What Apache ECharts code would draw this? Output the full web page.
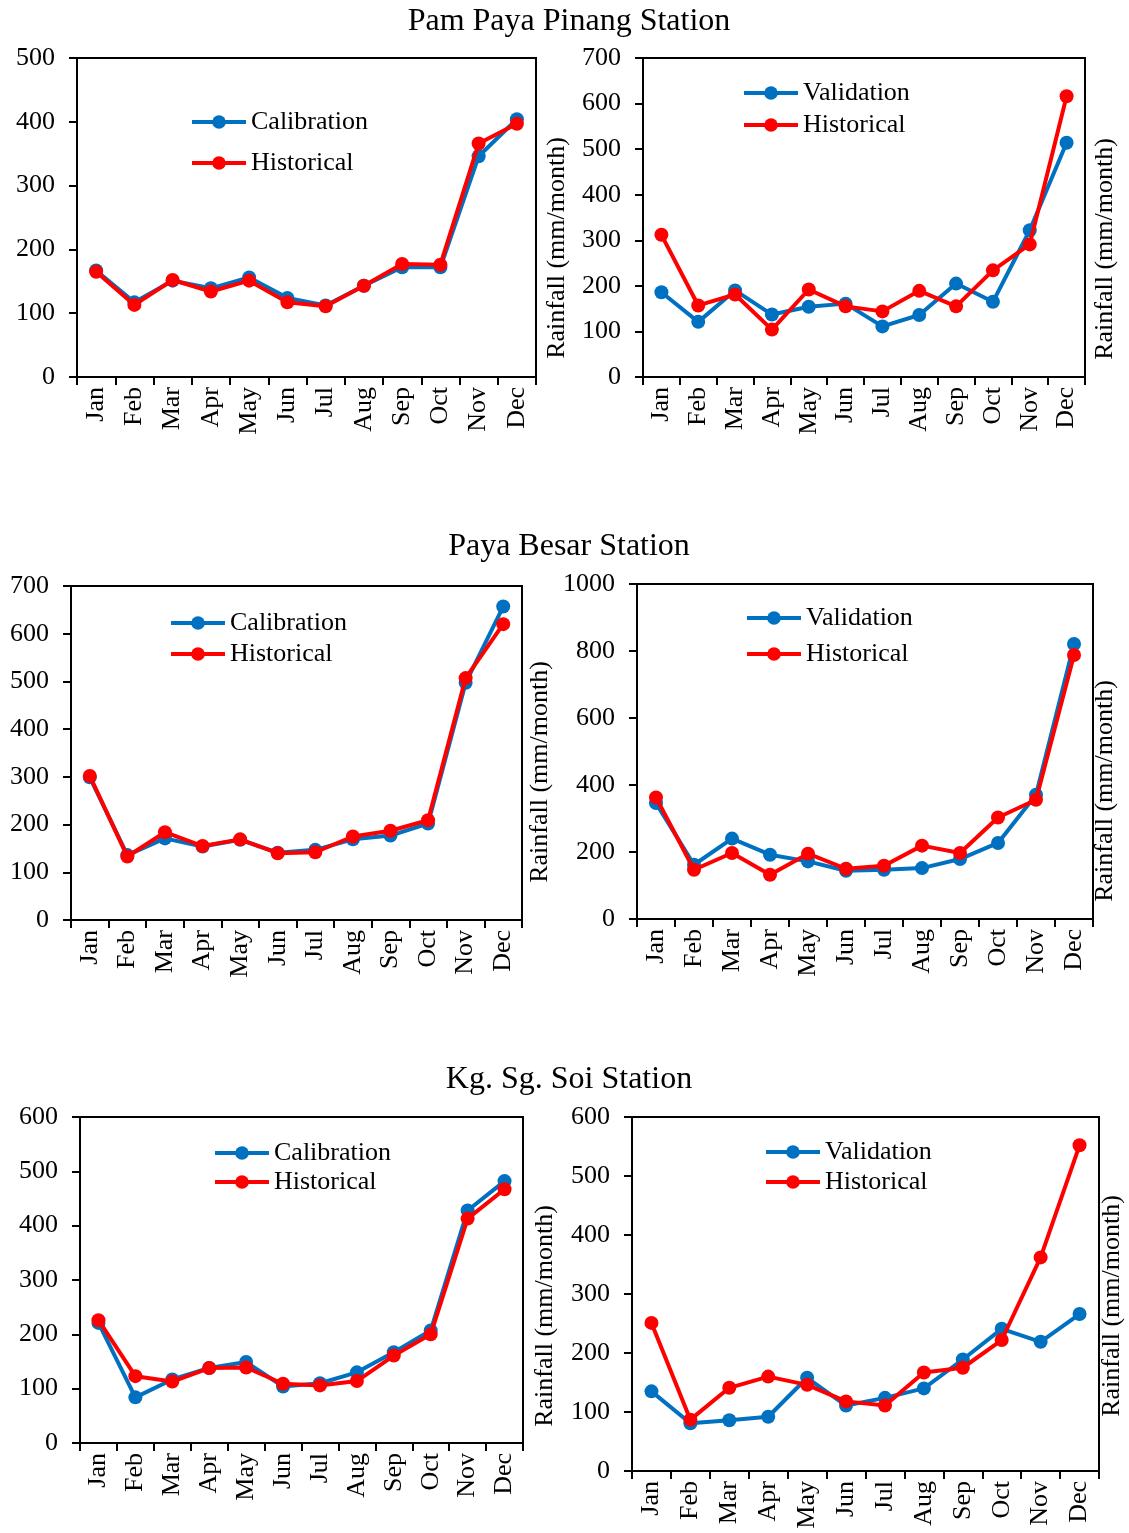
<!DOCTYPE html>
<html>
<head>
<meta charset="utf-8">
<script src="https://cdn.jsdelivr.net/npm/echarts@6/dist/echarts.min.js"></script>
<style>
html,body{margin:0;padding:0;background:#fff;}
#chart{width:1129px;height:1533px;}
</style>
</head>
<body>
<div id="chart"></div>
<script>
// ---- data ----
const months = ['Jan','Feb','Mar','Apr','May','Jun','Jul','Aug','Sep','Oct','Nov','Dec'];
const stationTitles = ['Pam Paya Pinang Station','Paya Besar Station','Kg. Sg. Soi Station'];
const axisName = 'Rainfall (mm/month)';

// Pam Paya Pinang
const ppCalibration = [167,117,151,139,156,124,112,143,172,172,346,404];
const ppCalHistorical = [165,113,152,134,151,117,111,143,177,176,366,397];
const ppValidation = [186,121,190,137,154,161,111,136,205,165,322,514];
const ppValHistorical = [312,157,181,104,192,155,144,189,155,234,291,616];

// Paya Besar
const pbCalibration = [299,136,171,154,168,141,147,169,177,202,497,657];
const pbCalHistorical = [302,133,184,155,169,140,142,175,187,209,507,620];
const pbValidation = [346,162,240,192,172,144,147,152,179,227,371,821];
const pbValHistorical = [363,147,197,132,195,150,159,219,197,303,356,788];

// Kg. Sg. Soi
const ksCalibration = [221,84,117,138,149,104,110,130,167,207,428,482];
const ksCalHistorical = [226,123,113,138,139,109,106,114,161,200,413,467];
const ksValidation = [135,81,86,92,158,111,124,140,189,241,219,266];
const ksValHistorical = [251,87,141,160,146,118,111,167,175,222,362,552];

// y axis ranges [max, interval] per panel
const yMax = [500,700,700,1000,600,600];
const yStep = [100,100,100,200,100,100];

// ---- layout ----
const grids = [
  {left:77, top:58, width:459, height:319},
  {left:643, top:58, width:442, height:319},
  {left:71, top:586, width:451, height:334},
  {left:637, top:584, width:456, height:335},
  {left:80, top:1117, width:443, height:326},
  {left:632, top:1117, width:467, height:354}
];
const seriesSets = [
  [['Calibration', ppCalibration], ['Historical', ppCalHistorical]],
  [['Validation', ppValidation], ['Historical', ppValHistorical]],
  [['Calibration', pbCalibration], ['Historical', pbCalHistorical]],
  [['Validation', pbValidation], ['Historical', pbValHistorical]],
  [['Calibration', ksCalibration], ['Historical', ksCalHistorical]],
  [['Validation', ksValidation], ['Historical', ksValHistorical]]
];
const legendPos = [
  {left:190, top:109, gap:15},
  {left:742, top:80, gap:6},
  {left:169, top:610, gap:5},
  {left:745, top:605, gap:10},
  {left:213, top:1140, gap:3},
  {left:764, top:1139, gap:4}
];
const FONT = '"Liberation Serif","Times New Roman",serif';
const BLUE = '#0070C0', RED = '#FF0000';

const xAxes = [], yAxes = [], series = [], legends = [];
grids.forEach((g, i) => {
  Object.assign(g, {show:true, borderColor:'#000', borderWidth:2, backgroundColor:'transparent'});
  xAxes.push({
    type:'category', gridIndex:i, data:months, boundaryGap:true,
    axisLine:{lineStyle:{color:'#000', width:2}},
    axisTick:{show:true, alignWithLabel:false, length:8, lineStyle:{color:'#000', width:2}},
    axisLabel:{rotate:90, color:'#000', fontFamily:FONT, fontSize:26, margin:10, interval:0}
  });
  yAxes.push({
    type:'value', gridIndex:i, min:0, max:yMax[i], interval:yStep[i],
    splitLine:{show:false},
    axisLine:{show:true, lineStyle:{color:'#000', width:2}},
    axisTick:{show:true, length:8, lineStyle:{color:'#000', width:2}},
    axisLabel:{color:'#000', fontFamily:FONT, fontSize:26, margin:22, formatter:(v) => String(v)}
  });
  const names = [];
  seriesSets[i].forEach(([name, vals], k) => {
    names.push(name);
    const c = k === 0 ? BLUE : RED;
    series.push({
      type:'line', name:name, xAxisIndex:i, yAxisIndex:i, data:vals,
      symbol:'circle', symbolSize:14, showSymbol:true,
      lineStyle:{color:c, width:4}, itemStyle:{color:c},
      emphasis:{disabled:true}, animation:false, z: 2 + k
    });
  });
  const lp = legendPos[i];
  legends.push({
    data:names, orient:'vertical', left:lp.left, top:lp.top - 1, itemGap:lp.gap - 2,
    itemWidth:54, itemHeight:17, padding:0,
    lineStyle:{width:4},
    textStyle:{color:'#000', fontFamily:FONT, fontSize:26, lineHeight:28, padding:[0,0,0,0]},
    selectedMode:false
  });
});

const graphics = [];
const titleY = [22, 547, 1080];
stationTitles.forEach((t, i) => {
  graphics.push({type:'text', x:569, y:titleY[i], style:{text:t, font:'32px ' + FONT, fill:'#000', textAlign:'center', textVerticalAlign:'middle'}});
});
const namePos = [[557,248],[1105,249],[540,772],[1105,791],[545,1316],[1112,1306]];
namePos.forEach(([x, y]) => {
  graphics.push({type:'text', x:x, y:y, rotation:Math.PI/2, style:{text:axisName, font:'26px ' + FONT, fill:'#000', textAlign:'center', textVerticalAlign:'middle'}});
});

const chart = echarts.init(document.getElementById('chart'), null, {renderer:'canvas'});
chart.setOption({
  animation:false,
  backgroundColor:'#fff',
  grid:grids, xAxis:xAxes, yAxis:yAxes, series:series, legend:legends, graphic:graphics
});
</script>
</body>
</html>
